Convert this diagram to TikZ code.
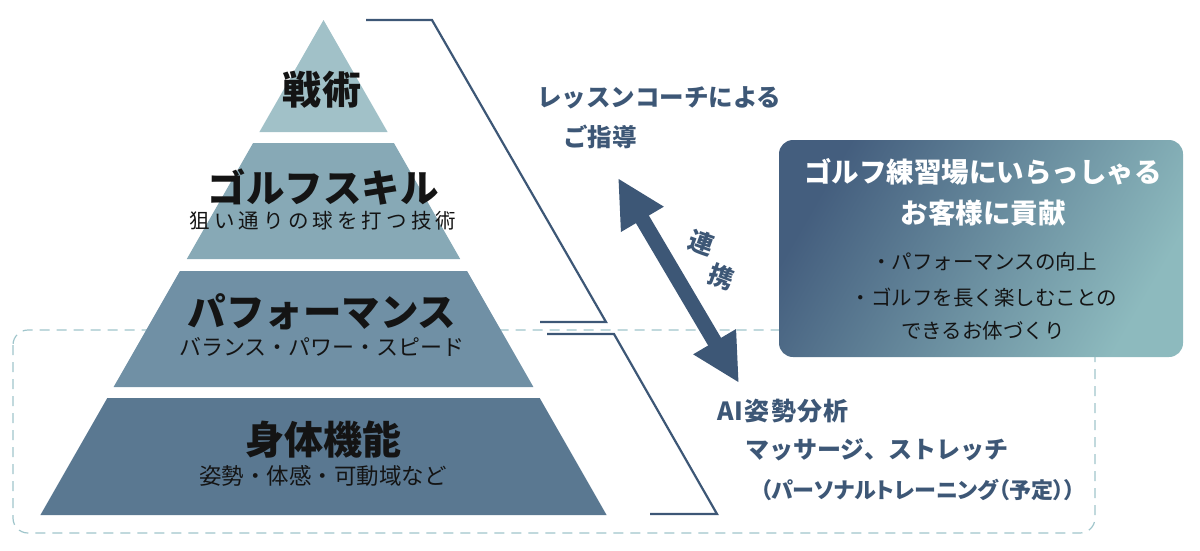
\documentclass[tikz,border=0pt]{standalone}
\usepackage{fontspec}
\setmainfont{Noto Sans CJK JP}
\usetikzlibrary{arrows.meta}

\definecolor{navy}{HTML}{3D5776}
\definecolor{tierA}{HTML}{A1C1C8}
\definecolor{tierB}{HTML}{87A9B6}
\definecolor{tierC}{HTML}{7090A5}
\definecolor{tierD}{HTML}{5A7891}
\definecolor{dashc}{HTML}{9FC5CB}
\definecolor{boxdark}{HTML}{445E7E}
\definecolor{boxlight}{HTML}{8DBABE}
\definecolor{ink}{HTML}{141414}

\newcommand{\fsz}[1]{\fontsize{#1}{#1}\selectfont}

\begin{document}
\begin{tikzpicture}[x=1pt, y=-1pt,
    head/.style={inner sep=0, text=ink, font=\fsz{38.5}\bfseries},
    sub/.style={inner sep=0, text=ink, font=\fsz{22}},
    note/.style={inner sep=0, anchor=west, text=navy, font=\fsz{24}\bfseries},
    bracket/.style={draw=navy, line width=2.2pt},
    boxtitle/.style={inner sep=0, text=white, font=\fsz{27.5}\bfseries},
    boxitem/.style={inner sep=0, text=ink, font=\fsz{20.5}},
    link/.style={draw=navy, line width=15pt, {Triangle[length=48pt,width=46pt]}-{Triangle[length=48pt,width=46pt]}}]
	\useasboundingbox (0,0) rectangle (1200,550);

	% dashed frame
	\draw[dashc, line width=1.2pt, dash pattern=on 10pt off 7pt, rounded corners=15pt] (13,330) rectangle (1095,533);

	% pyramid
	\fill[tierA] (323.5,20) -- (387.6,132) -- (259.4,132) -- cycle;
	\fill[tierB] (253.1,143) -- (393.9,143) -- (460.2,259) -- (186.8,259) -- cycle;
	\fill[tierC] (179.9,271) -- (467.1,271) -- (533.4,387) -- (113.6,387) -- cycle;
	\fill[tierD] (107.3,398) -- (539.7,398) -- (606.6,515) -- (40.4,515) -- cycle;

	\node[head, font=\fsz{39}\bfseries\addfontfeatures{LetterSpace=5}] (tactic) at (322,90) {戦術};
	\node[head] (skill) at (323,187) {ゴルフスキル};
	\node[sub, font=\fsz{20.5}\addfontfeatures{LetterSpace=20}] (skillsub) at (323,221) {狙い通りの球を打つ技術};
	\node[head] (perf) at (322,312) {パフォーマンス};
	\node[sub] (perfsub) at (322,347) {バランス・パワー・スピード};
	\node[head, font=\fsz{39}\bfseries] (body) at (323,440) {身体機能};
	\node[sub, font=\fsz{22.5}] (bodysub) at (323,476) {姿勢・体感・可動域など};

	% brackets
	\draw[bracket] (366,20) -- (432,20) -- (606,322) -- (540,322);
	\draw[bracket] (547,334) -- (614,334) -- (717,514) -- (650,514);

	% coach side
	\node[note, font=\fsz{24.5}\bfseries] (coach) at (537,98) {レッスンコーチによる};
	\node[note, font=\fsz{24.5}\bfseries] (guide) at (563,137) {ご指導};

	% trainer side
	\node[note, font=\fsz{25}\bfseries\addfontfeatures{LetterSpace=5}] (ai) at (717,411) {AI姿勢分析};
	\node[note] (massage) at (745,450) {マッサージ、ストレッチ};
	\node[note, font=\fsz{22}\bfseries\addfontfeatures{RawFeature=+palt}] (pt) at (760,490) {（パーソナルトレーニング（予定））};

	% link arrow
	\coordinate (up) at (618,178);
	\coordinate (down) at (739,383);
	\draw[link] (up) -- (down);
	\node[inner sep=0, text=navy, font=\fsz{25}\bfseries, rotate=-20] (ren) at (702,243) {連};
	\node[inner sep=0, text=navy, font=\fsz{25}\bfseries, rotate=-20] (kei) at (721,277) {携};

	% goal box
	\shade[rounded corners=14pt, top color=boxdark, bottom color=boxlight, shading angle=60] (779,140) rectangle (1183,357);
	\node[boxtitle] (goal1) at (983,172) {ゴルフ練習場にいらっしゃる};
	\node[boxtitle] (goal2) at (983,213) {お客様に貢献};
	\node[boxitem] (item1) at (984,262) {・パフォーマンスの向上};
	\node[boxitem] (item2) at (984,298) {・ゴルフを長く楽しむことの};
	\node[boxitem] (item3) at (983,331) {できるお体づくり};
\end{tikzpicture}
\end{document}
